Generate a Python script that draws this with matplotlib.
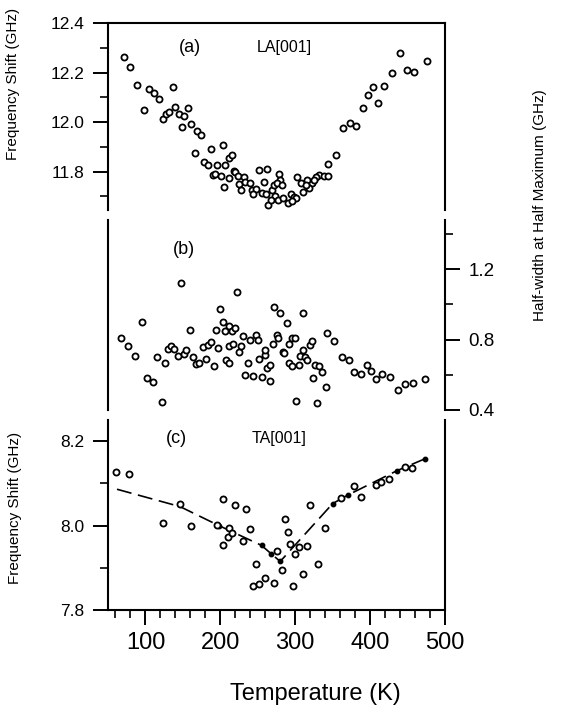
import matplotlib
matplotlib.use('Agg')
import matplotlib.pyplot as plt
from matplotlib.ticker import MultipleLocator, FormatStrFormatter

# (a) LA[001] frequency shift vs temperature
la_temp = [71, 80, 89, 98, 105, 112, 118, 137, 124, 128,
           132, 140, 145, 152, 157, 149, 161, 169, 174, 166,
           187, 204, 178, 183, 196, 206, 212, 216, 190, 193,
           201, 205, 212, 218, 220, 224, 231, 225, 227, 233,
           239, 242, 248, 244, 252, 262, 258, 256, 261, 269,
           273, 264, 267, 279, 280, 277, 271,
           440, 476, 449, 459, 429, 404, 419, 397, 411, 391,
           364, 373, 381, 354, 344, 332, 338, 344, 328, 322,
           325, 311, 303, 308, 316, 319, 315, 276, 282, 284,
           290, 294, 298, 301, 296]
la_freq = [12.264, 12.221, 12.149, 12.048, 12.135, 12.117, 12.095, 12.143, 12.014, 12.033,
           12.041, 12.059, 12.033, 12.024, 12.055, 11.980, 11.992, 11.965, 11.949, 11.875,
           11.893, 11.907, 11.837, 11.828, 11.827, 11.825, 11.853, 11.867, 11.786, 11.789,
           11.783, 11.739, 11.773, 11.804, 11.797, 11.783, 11.778, 11.751, 11.727, 11.760,
           11.754, 11.727, 11.730, 11.711, 11.805, 11.809, 11.759, 11.714, 11.711, 11.727,
           11.703, 11.664, 11.687, 11.789, 11.767, 11.684, 11.746,
           12.280, 12.245, 12.212, 12.204, 12.198, 12.141, 12.146, 12.111, 12.079, 12.056,
           11.978, 11.996, 11.986, 11.868, 11.829, 11.786, 11.781, 11.783, 11.778, 11.754,
           11.767, 11.718, 11.778, 11.756, 11.767, 11.732, 11.746, 11.754, 11.746, 11.692,
           11.673, 11.708, 11.698, 11.692, 11.681]

# (b) half-width at half maximum
hw_temp = [68, 77, 86, 96, 102, 110, 122, 116, 126, 130,
           134, 138, 143, 148, 151, 154, 160, 164, 167, 172,
           177, 181, 184, 188, 191, 194, 197, 200, 203, 206,
           207, 211, 211, 212, 215, 217, 219, 222, 225, 228,
           230, 233, 237, 240, 244, 247, 250, 252, 256, 259,
           260, 262, 266, 266, 270, 272, 280, 275, 277, 284,
           289, 311, 285, 292, 296, 300, 292, 296, 305, 306,
           310, 313, 316, 301, 320, 323, 326, 332, 324, 336,
           329, 341, 342, 352, 362, 372, 379, 388, 396, 401,
           408, 416, 426, 437, 447, 457, 473]
hw_width = [0.810, 0.762, 0.705, 0.903, 0.581, 0.562, 0.447, 0.701, 0.665, 0.749,
            0.762, 0.749, 0.709, 1.124, 0.718, 0.743, 0.853, 0.703, 0.659, 0.665,
            0.760, 0.690, 0.771, 0.787, 0.650, 0.855, 0.754, 0.975, 0.901, 0.847,
            0.686, 0.766, 0.667, 0.876, 0.850, 0.773, 0.867, 1.069, 0.727, 0.762,
            0.823, 0.600, 0.669, 0.796, 0.593, 0.825, 0.798, 0.691, 0.587, 0.712,
            0.741, 0.636, 0.657, 0.567, 0.773, 0.985, 0.949, 0.825, 0.811, 0.730,
            0.895, 0.954, 0.722, 0.775, 0.810, 0.810, 0.667, 0.648, 0.653, 0.709,
            0.739, 0.701, 0.682, 0.451, 0.771, 0.790, 0.653, 0.648, 0.581, 0.615,
            0.440, 0.533, 0.840, 0.792, 0.703, 0.687, 0.617, 0.604, 0.657, 0.621,
            0.577, 0.604, 0.590, 0.514, 0.550, 0.554, 0.577]

# (c) TA[001] frequency shift
ta_temp = [61, 78, 123, 146, 161, 195, 203, 204, 210, 211,
           216, 219, 230, 234, 240, 244, 248, 252, 259, 271,
           275, 282, 287, 290, 293, 297, 300, 305, 310, 316,
           320, 330, 340, 361, 378, 388, 408, 415, 425, 446,
           456]
ta_freq = [8.126, 8.122, 8.006, 8.051, 7.999, 8.001, 8.064, 7.953, 7.974, 7.995,
           7.982, 8.048, 7.963, 8.040, 7.992, 7.856, 7.910, 7.861, 7.876, 7.864,
           7.940, 7.894, 8.016, 7.984, 7.957, 7.857, 7.932, 7.949, 7.886, 7.951,
           8.049, 7.908, 7.994, 8.065, 8.093, 8.068, 8.096, 8.102, 8.111, 8.139,
           8.137]

# dashed guide line through (c), filled points at the nodes
ta_fit_temp = [62, 146, 198, 255, 268, 280, 350, 370, 436, 473, 482]
ta_fit_freq = [8.086, 8.045, 8.000, 7.953, 7.933, 7.915, 8.052, 8.072, 8.130, 8.158, 8.165]
ta_fit_dots = [2, 3, 4, 5, 6, 7, 8, 9]

plt.rcParams['font.family'] = ['Liberation Sans', 'DejaVu Sans']

W, H = 570, 719
fig = plt.figure(figsize=(W / 100, H / 100), dpi=100)


def px_axes(left, top, right, bottom):
    # axes placed in pixel coordinates of the original picture
    return fig.add_axes([left / W, 1 - bottom / H, (right - left) / W, (bottom - top) / H])


ax_a = px_axes(108, 23, 445, 210)
ax_b = px_axes(108, 220, 445, 410)
ax_c = px_axes(108, 420, 445, 610)

circ = dict(ls='none', marker='o', ms=4.4, mfc='white', mec='black', mew=1.3)

for ax in (ax_a, ax_b, ax_c):
    ax.set_xlim(50, 500)
    for s in ax.spines.values():
        s.set_linewidth(1.5)
    ax.tick_params(which='major', direction='out', length=11, width=1.4)
    ax.tick_params(which='minor', direction='out', length=6, width=1.2)

# panel (a)
ax_a.plot(la_temp, la_freq, **circ)
ax_a.set_ylim(11.645, 12.4)
ax_a.spines['bottom'].set_visible(False)
ax_a.tick_params(axis='x', which='both', bottom=False, labelbottom=False)
ax_a.tick_params(axis='y', which='both', right=False, labelsize=12.5, pad=6)
ax_a.yaxis.set_major_locator(MultipleLocator(0.2))
ax_a.yaxis.set_minor_locator(MultipleLocator(0.1))
ax_a.yaxis.set_major_formatter(FormatStrFormatter('%.1f'))
ax_a.text(160, 12.30, '(a)', fontsize=13, ha='center', va='center')
ax_a.text(285, 12.30, 'LA[001]', fontsize=11.5, ha='center', va='center')

# panel (b)
ax_b.plot(hw_temp, hw_width, **circ)
ax_b.set_ylim(0.4, 1.48)
ax_b.spines['top'].set_visible(False)
ax_b.spines['bottom'].set_visible(False)
ax_b.tick_params(axis='x', which='both', bottom=False, labelbottom=False)
ax_b.yaxis.tick_right()
ax_b.tick_params(axis='y', which='both', left=False, labelsize=13.5, pad=6)
ax_b.yaxis.set_major_locator(MultipleLocator(0.4))
ax_b.yaxis.set_minor_locator(MultipleLocator(0.2))
ax_b.yaxis.set_major_formatter(FormatStrFormatter('%.1f'))
ax_b.text(151, 1.31, '(b)', fontsize=13, ha='center', va='center')

# panel (c)
ax_c.plot(ta_fit_temp, ta_fit_freq, color='black', lw=1.2, dashes=(9, 4),
          marker='o', ms=3.2, mfc='black', mec='black', markevery=ta_fit_dots)
ax_c.plot(ta_temp, ta_freq, **circ)
ax_c.set_ylim(7.8, 8.25)
ax_c.spines['top'].set_visible(False)
ax_c.tick_params(axis='y', which='both', right=False, labelsize=12.5, pad=6)
ax_c.tick_params(axis='x', which='both', labelsize=17, pad=5)
ax_c.yaxis.set_major_locator(MultipleLocator(0.2))
ax_c.yaxis.set_minor_locator(MultipleLocator(0.1))
ax_c.yaxis.set_major_formatter(FormatStrFormatter('%.1f'))
ax_c.xaxis.set_major_locator(MultipleLocator(100))
ax_c.xaxis.set_minor_locator(MultipleLocator(20))
ax_c.text(142, 8.207, '(c)', fontsize=13, ha='center', va='center')
ax_c.text(278, 8.207, 'TA[001]', fontsize=11.5, ha='center', va='center')

# axis titles
fig.text(13 / W, 1 - 84 / H, 'Frequency Shift (GHz)', rotation=90, fontsize=11,
         ha='center', va='center')
fig.text(15 / W, 1 - 508 / H, 'Frequency Shift (GHz)', rotation=90, fontsize=11,
         ha='center', va='center')
fig.text(540 / W, 1 - 205 / H, 'Half-width at Half Maximum (GHz)', rotation=90,
         fontsize=11, ha='center', va='center')
fig.text(315 / W, 1 - 694 / H, 'Temperature (K)', fontsize=17, ha='center', va='center')

fig.savefig('out.png', dpi=100)
